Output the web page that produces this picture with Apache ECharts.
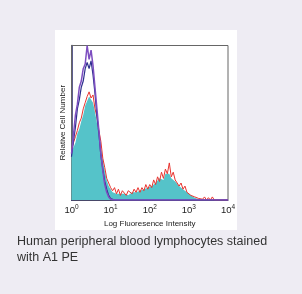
<!DOCTYPE html>
<html>
<head>
<meta charset="utf-8">
<script src="https://cdn.jsdelivr.net/npm/echarts@6/dist/echarts.min.js"></script>
<style>
  html, body { margin: 0; padding: 0; }
  #chart { width: 302px; height: 294px; background: #eeecf3; }
</style>
</head>
<body>
<div id="chart"></div>
<script>
// bin positions in decades (log10 of fluorescence), step 0.05
const bins = [
  0.00, 0.05, 0.10, 0.15, 0.20, 0.25, 0.30, 0.35, 0.40, 0.45,
  0.50, 0.55, 0.60, 0.65, 0.70, 0.75, 0.80, 0.85, 0.90, 0.95,
  1.00, 1.05, 1.10, 1.15, 1.20, 1.25, 1.30, 1.35, 1.40, 1.45,
  1.50, 1.55, 1.60, 1.65, 1.70, 1.75, 1.80, 1.85, 1.90, 1.95,
  2.00, 2.05, 2.10, 2.15, 2.20, 2.25, 2.30, 2.35, 2.40, 2.45,
  2.50, 2.55, 2.60, 2.65, 2.70, 2.75, 2.80, 2.85, 2.90, 2.95,
  3.00, 3.05, 3.10, 3.15, 3.20, 3.25, 3.30, 3.35, 3.40, 3.45,
  3.50, 3.55, 3.60, 3.65, 3.70, 3.75, 3.80, 3.85, 3.90, 3.95, 4.00
];
// stained sample (filled)
const stained = [
  30, 34, 37, 43, 46, 51, 55, 61, 64, 67,
  65, 63, 57, 50, 43, 34, 26, 19, 13, 9,
  7, 5, 4, 4, 3, 4, 3, 4, 4, 3,
  4, 5, 4, 5, 5, 6, 6, 7, 7, 8,
  8, 9, 10, 11, 12, 14, 15, 13, 17, 16,
  17, 14, 15, 12, 11, 9, 8, 7, 6, 5,
  4, 3, 2, 1.5, 1, 0.5, 0.5, 0, 0, 0,
  0, 0, 0, 0, 0, 0, 0, 0, 0, 0, 0
];
// stained sample outline (noisy)
const stainedLine = [
  33, 37, 41, 45, 50, 53, 59, 63, 67, 70,
  66, 68, 59, 54, 45, 38, 27, 21, 14, 11,
  8, 6, 8, 4, 7, 3, 6, 5, 3, 6,
  7, 4, 7, 5, 8, 5, 8, 6, 10, 7,
  10, 8, 13, 10, 15, 12, 18, 14, 20, 17,
  24, 15, 18, 13, 14, 9, 11, 7, 9, 5,
  6, 3, 4, 2, 3, 1, 2, 0.5, 2, 0,
  1.5, 0, 2, 0, 1, 0, 0, 0, 0, 0, 0
];
// isotype controls
const control1 = [
  30, 42, 55, 62, 73, 77, 85, 88, 100, 91,
  97, 87, 73, 59, 45, 30, 19, 10, 5, 2,
  0.5, 0, 0, 0, 0, 0, 0, 0, 0, 0,
  0, 0, 0, 0, 0, 0, 0, 0, 0, 0,
  0, 0, 0, 0, 0, 0, 0, 0, 0, 0,
  0, 0, 0, 0, 0, 0, 0, 0, 0, 0,
  0, 0, 0, 0, 0, 0, 0, 0, 0, 0,
  0, 0, 0, 0, 0, 0, 0, 0, 0, 0, 0
];
const control2 = [
  28, 38, 47, 59, 65, 73, 77, 85, 89, 85,
  90, 81, 69, 54, 43, 29, 20, 12, 7, 3,
  1, 0, 0, 0, 0, 0, 0, 0, 0, 0,
  0, 0, 0, 0, 0, 0, 0, 0, 0, 0,
  0, 0, 0, 0, 0, 0, 0, 0, 0, 0,
  0, 0, 0, 0, 0, 0, 0, 0, 0, 0,
  0, 0, 0, 0, 0, 0, 0, 0, 0, 0,
  0, 0, 0, 0, 0, 0, 0, 0, 0, 0, 0
];
const decadeLabels = ['0', '1', '2', '3', '4'];

function pairs(ys) {
  return bins.map((x, i) => [x, ys[i]]);
}

const myChart = echarts.init(document.getElementById('chart'));
myChart.setOption({
  animation: false,
  graphic: [
    {
      type: 'rect', z: -10,
      shape: { x: 55, y: 30, width: 182, height: 200 },
      style: { fill: '#ffffff' }
    },
    {
      type: 'text', left: 17, top: 234,
      style: {
        text: 'Human peripheral blood lymphocytes stained\nwith A1 PE',
        font: '12.5px Arial, "Liberation Sans"',
        fill: '#333333',
        lineHeight: 16
      }
    }
  ],
  grid: { left: 71.5, right: 74, top: 45.5, bottom: 94 },
  xAxis: {
    type: 'value', min: 0, max: 4, interval: 1,
    name: 'Log Fluoresence Intensity',
    nameLocation: 'middle', nameGap: 18,
    nameTextStyle: { fontSize: 8, color: '#222', fontFamily: 'Liberation Sans Narrow, Arial' },
    axisLine: { lineStyle: { color: '#2a2a6a', width: 1 } },
    axisTick: { show: false },
    splitLine: { show: false },
    axisLabel: {
      margin: 4,
      formatter: v => '10{sup|' + decadeLabels[v] + '}',
      rich: { sup: { fontSize: 6.5, verticalAlign: 'top', padding: [0, 0, 5, 0], color: '#222' } },
      fontSize: 9.5, color: '#222', fontFamily: 'Arial'
    }
  },
  yAxis: {
    type: 'value', min: 0, max: 100,
    name: 'Relative Cell Number',
    nameLocation: 'middle', nameGap: 5,
    nameTextStyle: { fontSize: 8, color: '#222', fontFamily: 'Liberation Sans Narrow, Arial' },
    axisLine: { show: true, lineStyle: { color: '#2a2a6a', width: 1.5 } },
    axisTick: { show: false },
    axisLabel: { show: false },
    splitLine: { show: false }
  },
  series: [
    {
      type: 'line', data: pairs(stained), showSymbol: false, z: 1,
      lineStyle: { width: 0 },
      areaStyle: { color: '#55c3c9', opacity: 1 }
    },
    {
      type: 'line', data: pairs(stainedLine), showSymbol: false, z: 2,
      lineStyle: { color: '#e8342f', width: 1 }
    },
    {
      type: 'line', data: pairs(control2), showSymbol: false, z: 3,
      lineStyle: { color: '#2d2f8e', width: 1.2 }
    },
    {
      type: 'line', data: pairs(control1), showSymbol: false, z: 4,
      lineStyle: { color: '#7d4ec0', width: 1.5 }
    },
    {
      // plot frame
      type: 'line', data: [], markArea: {
        silent: true,
        itemStyle: { color: 'transparent', borderColor: '#666', borderWidth: 1 },
        data: [[{ coord: [0, 0] }, { coord: [4, 100] }]]
      }
    }
  ]
});
</script>
</body>
</html>
